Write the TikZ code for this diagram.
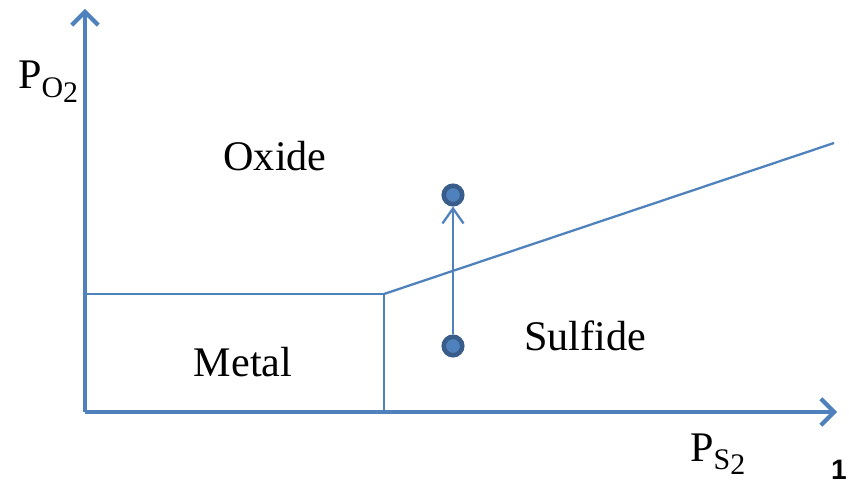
\documentclass[tikz,border=0pt]{standalone}
\usepackage{fontspec}
\setmainfont{Liberation Serif}
\newfontfamily\slidefont{Liberation Sans}
\usepackage{xcolor}
\definecolor{axisblue}{HTML}{4F81BD}
\definecolor{dotedge}{HTML}{385D8A}
\usetikzlibrary{arrows.meta, positioning}

% partial-pressure label: P with a lowered subscript and index
\newcommand{\ppress}[2]{P\raisebox{-0.45ex}{\fontsize{17}{17}\selectfont #1\raisebox{-0.35ex}{#2}}}

\begin{document}
\begin{tikzpicture}[x=0.02cm, y=0.02cm,
    every node/.style={font=\fontsize{24}{28}\selectfont},
    axisline/.style={draw=axisblue, line width=2.4pt,
      -{Straight Barb[length=7.5pt, width=15pt, line width=2.4pt]}},
    border/.style={draw=axisblue, line width=1.3pt},
    statedot/.style={circle, draw=dotedge, fill=axisblue, line width=2.6pt,
      minimum size=0.37cm, inner sep=0pt}]

  \useasboundingbox (0,0) rectangle (849,484);

  % axes
  \coordinate (origin) at (85,72);
  \coordinate (ytip) at (85,475);
  \coordinate (xtip) at (837,72);
  \draw[axisline] (origin) -- (ytip);
  \draw[axisline] (origin) -- (xtip);

  % phase boundaries
  \coordinate (mleft) at (85,190);
  \coordinate (corner) at (384,190);
  \coordinate (mfoot) at (384,72);
  \coordinate (send) at (834,341);
  \draw[border] (mleft) -- (corner) -- (mfoot);
  \draw[border] (corner) -- (send);

  % region labels
  \node (oxide) at (275,328) {Oxide};
  \node (metal) at (243,122) {Metal};
  \node (sulfide) at (585,148) {Sulfide};

  % axis labels
  \node[anchor=base west] (pox) at (12,395) {\ppress{O}{2}};
  \node[anchor=base west] (psul) at (684,23) {\ppress{S}{2}};

  % state change
  \node[statedot] (lo) at (453,138) {};
  \node[statedot] (hi) at (453,289) {};
  \draw[draw=axisblue, line width=1.3pt,
    -{Straight Barb[length=8.5pt, width=12pt, line width=1.3pt]}] (lo) -- (hi);

  % slide number
  \node[font=\slidefont\bfseries\fontsize{16}{16}\selectfont, anchor=base,
    inner sep=1pt] (pnum) at (839,5) {1};
\end{tikzpicture}
\end{document}
